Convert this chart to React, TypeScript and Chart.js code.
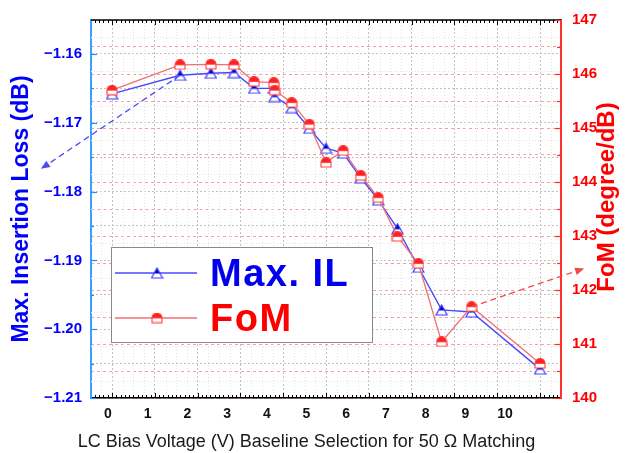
import React, { useEffect, useRef } from 'react';
import { Chart, registerables } from 'chart.js';

Chart.register(...registerables);

// ---------- data ----------
const xLabels = ['0', '1', '2', '3', '4', '5', '6', '7', '8', '9', '10'];
const xLabelValues = [0, 1, 2, 3, 4, 5, 6, 7, 8, 9, 10];
const xMajorTicks = [0, 1, 2, 3, 4, 5, 6, 7, 8, 9, 10];

const biasVoltage = [0, 1.59, 2.31, 2.85, 3.32, 3.78, 3.8, 4.2, 4.61, 5.0, 5.4, 5.81, 6.22, 6.67, 7.16, 7.7, 8.4, 10.0];
const maxIL = [-1.1658, -1.1631, -1.1628, -1.1627, -1.165, -1.165, -1.1662, -1.1678, -1.1708, -1.1737, -1.1744, -1.178, -1.1812, -1.1854, -1.191, -1.1972, -1.1975, -1.2058];
const fom = [145.7, 146.17, 146.18, 146.17, 145.86, 145.84, 145.7, 145.47, 145.07, 144.36, 144.58, 144.12, 143.71, 142.99, 142.49, 141.04, 141.69, 140.64];

const leftTicks = [-1.21, -1.205, -1.2, -1.195, -1.19, -1.185, -1.18, -1.175, -1.17, -1.165, -1.16];
const rightTicks = [140, 140.5, 141, 141.5, 142, 142.5, 143, 143.5, 144, 144.5, 145, 145.5, 146, 146.5, 147];

const seriesNames = ['Max. IL', 'FoM'];
const leftTitle = 'Max. Insertion Loss (dB)';
const rightTitle = 'FoM (degree/dB)';
const bottomTitle = 'LC Bias Voltage (V) Baseline Selection for 50 \u03A9 Matching';

// arrow annotations: start at a data index, tip in axis units
const blueArrow = { index: 1, tipX: -1.66, tipY: -1.1767 };
const redArrow = { index: 16, tipX: 11.03, tipY: 142.4 };

const FONT = "'Liberation Sans', Arial, Helvetica, sans-serif";
const BLUE = '#0000ff';
const RED = '#ff0000';

function makeTriangle(): HTMLCanvasElement {
  const c = document.createElement('canvas');
  c.width = 13; c.height = 12;
  const g = c.getContext('2d')!;
  g.beginPath();
  g.moveTo(6.5, 1); g.lineTo(12, 11); g.lineTo(1, 11); g.closePath();
  g.fillStyle = '#ffffff'; g.fill();
  g.save(); g.clip(); g.fillStyle = '#0000c0'; g.fillRect(0, 0, 13, 6.5); g.restore();
  g.strokeStyle = '#3a3aff'; g.lineWidth = 1.2; g.stroke();
  return c;
}

function makeHouse(): HTMLCanvasElement {
  const c = document.createElement('canvas');
  c.width = 12; c.height = 11;
  const g = c.getContext('2d')!;
  g.beginPath();
  g.moveTo(1, 5.5); g.arc(6, 5.5, 5, Math.PI, 0); g.lineTo(11, 10); g.lineTo(1, 10); g.closePath();
  g.fillStyle = '#ffffff'; g.fill();
  g.save(); g.clip(); g.fillStyle = '#ff2020'; g.fillRect(0, 0, 12, 5.8); g.restore();
  g.strokeStyle = '#ff3b3b'; g.lineWidth = 1.1; g.stroke();
  return c;
}

function drawArrow(ctx: CanvasRenderingContext2D, x0: number, y0: number, x1: number, y1: number, color: string) {
  const ang = Math.atan2(y1 - y0, x1 - x0);
  const head = 9, half = 3.8;
  const bx = x1 - head * Math.cos(ang), by = y1 - head * Math.sin(ang);
  ctx.save();
  ctx.strokeStyle = color; ctx.fillStyle = color; ctx.lineWidth = 1.3;
  ctx.setLineDash([6, 4]);
  ctx.beginPath(); ctx.moveTo(x0, y0); ctx.lineTo(bx, by); ctx.stroke();
  ctx.setLineDash([]);
  ctx.beginPath();
  ctx.moveTo(x1, y1);
  ctx.lineTo(bx + half * Math.sin(ang), by - half * Math.cos(ang));
  ctx.lineTo(bx - half * Math.sin(ang), by + half * Math.cos(ang));
  ctx.closePath(); ctx.fill();
  ctx.restore();
}

export default function App() {
  const ref = useRef<HTMLCanvasElement | null>(null);

  useEffect(() => {
    document.body.style.margin = '0';
    const canvas = ref.current!;
    const tri = makeTriangle();
    const house = makeHouse();

    const decor = {
      id: 'decor',
      beforeDatasetsDraw(chart: any) {
        // faint minor grid
        const ctx: CanvasRenderingContext2D = chart.ctx;
        const { x, y } = chart.scales;
        const ca = chart.chartArea;
        ctx.save();
        ctx.strokeStyle = '#e4e4e4'; ctx.lineWidth = 1; ctx.setLineDash([1, 2]);
        for (let i = -1; i <= 42; i++) {
          if (i % 4 === 0) continue;
          const px = Math.round(x.getPixelForValue(i / 4)) + 0.5;
          if (px <= ca.left + 1 || px >= ca.right - 1) continue;
          ctx.beginPath(); ctx.moveTo(px, ca.top); ctx.lineTo(px, ca.bottom); ctx.stroke();
        }
        for (let i = 0; i < leftTicks.length; i++) {
          const v = leftTicks[i] + 0.0025;
          const py = Math.round(y.getPixelForValue(v)) + 0.5;
          if (py <= ca.top + 1) continue;
          ctx.beginPath(); ctx.moveTo(ca.left, py); ctx.lineTo(ca.right, py); ctx.stroke();
        }
        ctx.restore();
      },
      afterDatasetsDraw(chart: any) {
        const ctx: CanvasRenderingContext2D = chart.ctx;
        const { x, y, y1 } = chart.scales;
        drawArrow(ctx,
          x.getPixelForValue(biasVoltage[blueArrow.index]), y.getPixelForValue(maxIL[blueArrow.index]),
          x.getPixelForValue(blueArrow.tipX), y.getPixelForValue(blueArrow.tipY), '#4b4bf0');
        drawArrow(ctx,
          x.getPixelForValue(biasVoltage[redArrow.index]), y1.getPixelForValue(fom[redArrow.index]),
          x.getPixelForValue(redArrow.tipX), y1.getPixelForValue(redArrow.tipY), '#f04848');

        // legend
        ctx.save();
        ctx.fillStyle = '#ffffff';
        ctx.fillRect(111, 247, 261, 95);
        ctx.strokeStyle = '#8a8a8a'; ctx.lineWidth = 1;
        ctx.strokeRect(111.5, 247.5, 261, 95);
        const rows = [
          { y: 273, color: '#4848ff', img: tri, text: seriesNames[0], tcolor: '#0000ee', base: 286 },
          { y: 318, color: '#f07070', img: house, text: seriesNames[1], tcolor: RED, base: 331 },
        ];
        rows.forEach(r => {
          ctx.strokeStyle = r.color; ctx.lineWidth = 1.3;
          ctx.beginPath(); ctx.moveTo(115, r.y); ctx.lineTo(197, r.y); ctx.stroke();
          ctx.drawImage(r.img, 157 - r.img.width / 2, r.y - r.img.height / 2);
          ctx.fillStyle = r.tcolor;
          ctx.font = `bold 38px ${FONT}`;
          (ctx as any).letterSpacing = '1.5px';
          ctx.textAlign = 'left'; ctx.textBaseline = 'alphabetic';
          ctx.fillText(r.text, 210, r.base);
          (ctx as any).letterSpacing = '0px';
        });
        ctx.restore();
      },
      afterDraw(chart: any) {
        const ctx: CanvasRenderingContext2D = chart.ctx;
        const { x, y, y1 } = chart.scales;
        const ca = chart.chartArea;
        ctx.save();
        // top frame line
        ctx.strokeStyle = '#000'; ctx.lineWidth = 1.5;
        ctx.beginPath(); ctx.moveTo(ca.left, ca.top); ctx.lineTo(ca.right, ca.top); ctx.stroke();
        // top & bottom inward ticks
        ctx.lineWidth = 1;
        for (let i = -4; i <= 104; i++) {
          const v = i / 10;
          const px = Math.round(x.getPixelForValue(v)) + 0.5;
          if (px < ca.left + 1 || px > ca.right - 1) continue;
          const len = i % 10 === 0 ? 5 : 3;
          ctx.beginPath();
          ctx.moveTo(px, ca.top); ctx.lineTo(px, ca.top + len);
          ctx.moveTo(px, ca.bottom); ctx.lineTo(px, ca.bottom - len);
          ctx.stroke();
        }
        // left ticks
        ctx.strokeStyle = '#1e90ff'; ctx.lineWidth = 1.2;
        leftTicks.forEach((v, i) => {
          const py = Math.round(y.getPixelForValue(v)) + 0.5;
          const len = i % 2 === 0 ? 6 : 3;
          ctx.beginPath(); ctx.moveTo(ca.left, py); ctx.lineTo(ca.left + len, py); ctx.stroke();
        });
        // right ticks
        ctx.strokeStyle = '#ff2a2a';
        rightTicks.forEach((v, i) => {
          const py = Math.round(y1.getPixelForValue(v)) + 0.5;
          const len = i % 2 === 0 ? 6 : 4;
          ctx.beginPath(); ctx.moveTo(ca.right, py); ctx.lineTo(ca.right - len, py); ctx.stroke();
        });
        // titles
        ctx.textAlign = 'center'; ctx.textBaseline = 'middle';
        ctx.save();
        ctx.translate(22, 209); ctx.rotate(-Math.PI / 2);
        ctx.fillStyle = BLUE; ctx.font = `bold 23px ${FONT}`;
        ctx.fillText(leftTitle, 0, 0);
        ctx.restore();
        ctx.save();
        ctx.translate(607, 197); ctx.rotate(-Math.PI / 2);
        ctx.fillStyle = RED; ctx.font = `bold 24px ${FONT}`;
        ctx.fillText(rightTitle, 0, 0);
        ctx.restore();
        ctx.fillStyle = '#1a1a1a'; ctx.font = `18px ${FONT}`;
        ctx.fillText(bottomTitle, 306.5, 442);
        ctx.restore();
      },
    };

    const chart = new Chart(canvas, {
      type: 'line',
      data: {
        datasets: [
          {
            label: seriesNames[0],
            data: biasVoltage.map((v, i) => ({ x: v, y: maxIL[i] })),
            xAxisID: 'x', yAxisID: 'y',
            borderColor: '#4848ff', borderWidth: 1.4,
            pointStyle: tri as any, pointRadius: 6,
            order: 1, tension: 0,
          },
          {
            label: seriesNames[1],
            data: biasVoltage.map((v, i) => ({ x: v, y: fom[i] })),
            xAxisID: 'x', yAxisID: 'y1',
            borderColor: '#f07070', borderWidth: 1.3,
            pointStyle: house as any, pointRadius: 6,
            order: 0, tension: 0,
          },
        ],
      },
      options: {
        animation: false,
        responsive: false,
        maintainAspectRatio: false,
        layout: { padding: { top: 19, left: 0, right: 0, bottom: 0 } },
        plugins: { legend: { display: false }, tooltip: { enabled: false } },
        scales: {
          x: {
            type: 'linear', position: 'bottom', min: -0.491, max: 10.49,
            afterBuildTicks: (s: any) => { s.ticks = xMajorTicks.map(v => ({ value: v })); },
            afterFit: (s: any) => { s.height = 0; },
            ticks: { display: false },
            grid: { color: '#c2c2c2', lineWidth: 1, drawTicks: false },
            border: { display: true, color: '#000', width: 1.5, dash: [2, 2] },
          },
          xl: {
            type: 'linear', position: 'bottom', min: -0.428, max: 11.41, weight: 1,
            afterBuildTicks: (s: any) => { s.ticks = xLabelValues.map(v => ({ value: v })); },
            afterFit: (s: any) => { s.height = 55; },
            grid: { display: false, drawTicks: false },
            border: { display: false },
            ticks: {
              padding: 8, autoSkip: false, maxRotation: 0, color: '#111',
              font: { family: FONT, size: 14, weight: 'bold' },
              callback: (_v: any, i: number) => xLabels[i],
            },
          },
          y: {
            type: 'linear', position: 'left', min: -1.21, max: -1.15507,
            afterBuildTicks: (s: any) => { s.ticks = leftTicks.map(v => ({ value: v })); },
            afterFit: (s: any) => { s.width = 91; },
            grid: { color: '#c2c2c2', lineWidth: 1, drawTicks: false },
            border: { display: true, color: '#3aa0ff', width: 2, dash: [2, 2] },
            ticks: {
              padding: 9, color: BLUE,
              font: { family: FONT, size: 15, weight: 'bold' },
              callback: (v: any) => {
                const n = Number(v);
                return Math.abs(n * 100 - Math.round(n * 100)) < 1e-6 ? '\u2212' + Math.abs(n).toFixed(2) : '';
              },
            },
          },
          y1: {
            type: 'linear', position: 'right', min: 140, max: 147,
            afterBuildTicks: (s: any) => { s.ticks = rightTicks.map(v => ({ value: v })); },
            afterFit: (s: any) => { s.width = 64; },
            grid: { color: '#f2a0a0', lineWidth: 1, drawTicks: false },
            border: { display: true, color: '#ff3030', width: 2, dash: [3, 3] },
            ticks: {
              padding: 11, color: RED,
              font: { family: FONT, size: 15, weight: 'bold' },
              callback: (v: any) => (Number.isInteger(Number(v)) ? String(v) : ''),
            },
          },
        },
      },
      plugins: [decor],
    } as any);

    return () => chart.destroy();
  }, []);

  return <canvas ref={ref} width={625} height={453} style={{ display: 'block', width: 625, height: 453 }} />;
}
